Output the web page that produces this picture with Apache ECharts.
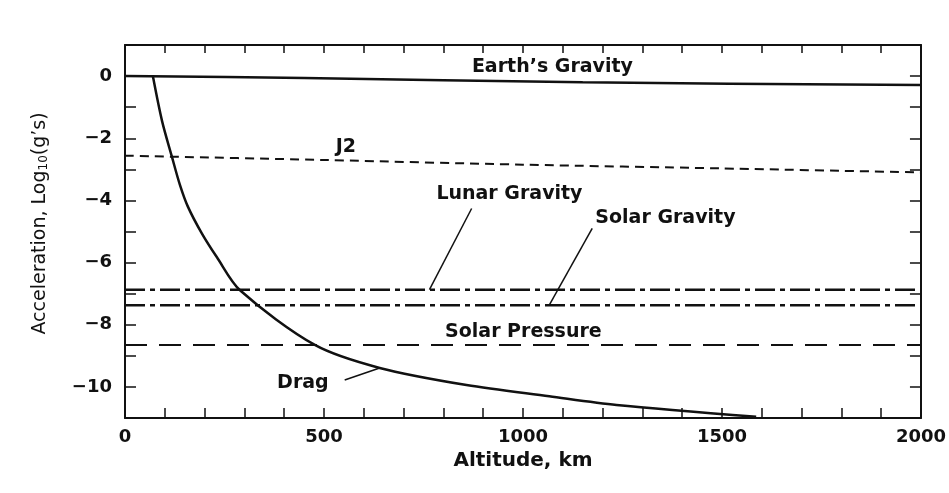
<!DOCTYPE html>
<html>
<head>
<meta charset="utf-8">
<script src="https://cdn.jsdelivr.net/npm/echarts@6/dist/echarts.min.js"></script>
<style>
  html, body { margin: 0; padding: 0; background: #ffffff; }
  #chart { width: 949px; height: 493px; }
</style>
</head>
<body>
<div id="chart"></div>
<script>
// Perturbing accelerations on a satellite versus altitude (log10 of g's)
const earthAlt = [0, 450, 1150, 2000];
const earthAcc = [0, -0.06, -0.2, -0.29];

const j2Alt = [0, 500, 1000, 1500, 2000];
const j2Acc = [-2.56, -2.7, -2.85, -2.97, -3.1];

const lunarAlt = [0, 2000];
const lunarAcc = [-6.87, -6.87];

const solarGravAlt = [0, 2000];
const solarGravAcc = [-7.37, -7.37];

const solarPressAlt = [0, 2000];
const solarPressAcc = [-8.65, -8.65];

const dragAlt = [70, 93, 118, 138, 158, 193, 231, 289, 477, 640, 858, 1066, 1235, 1586];
const dragAcc = [0, -1.44, -2.6, -3.5, -4.2, -5.06, -5.83, -6.89, -8.65, -9.39, -9.94, -10.3, -10.58, -10.96];

// Curve labels: text, altitude, acceleration
const labelText = ["Earth\u2019s Gravity", "J2", "Lunar Gravity", "Solar Gravity", "Solar Pressure", "Drag"];
const labelAlt = [1074, 555, 966, 1358, 1001, 447];
const labelAcc = [0.29, -2.28, -3.78, -4.58, -8.24, -9.87];

// Leader lines from labels to curves
const lunarLeaderAlt = [871, 765];
const lunarLeaderAcc = [-4.26, -6.87];
const solarLeaderAlt = [1174, 1066];
const solarLeaderAcc = [-4.9, -7.37];
const dragLeaderAlt = [552, 640];
const dragLeaderAcc = [-9.78, -9.39];

const xTicks = { min: 0, max: 2000, interval: 500 };
const yTicks = { min: -11, max: 1, interval: 1 };

function pairs(xs, ys) { return xs.map((x, i) => [x, ys[i]]); }

const INK = '#111111';
const tickFont = { fontFamily: 'DejaVu Sans', fontWeight: 'bold', fontSize: 18, color: INK };

function lineSeries(name, xs, ys, width, dash, smooth) {
  return {
    name: name, type: 'line', data: pairs(xs, ys),
    showSymbol: false, symbol: 'none', smooth: smooth || false,
    lineStyle: { color: INK, width: width, type: dash || 'solid' },
    silent: true, z: 3
  };
}

const chart = echarts.init(document.getElementById('chart'), null, { renderer: 'canvas' });

const axisLineStyle = { show: true, onZero: false, lineStyle: { color: INK, width: 2 } };
const tickLine = { color: INK, width: 1.5 };

chart.setOption({
  backgroundColor: '#ffffff',
  animation: false,
  grid: { left: 125, right: 27, top: 45, bottom: 75, containLabel: false },
  xAxis: [
    {
      type: 'value', position: 'bottom', min: xTicks.min, max: xTicks.max, interval: xTicks.interval,
      axisLine: axisLineStyle,
      axisTick: { show: true, inside: true, length: 10, lineStyle: tickLine },
      minorTick: { show: true, splitNumber: 5, length: 10, lineStyle: tickLine },
      splitLine: { show: false }, minorSplitLine: { show: false },
      axisLabel: Object.assign({ margin: 10, formatter: function (v) { return String(v); } }, tickFont),
      name: 'Altitude, km', nameLocation: 'middle', nameGap: 33,
      nameTextStyle: { fontFamily: 'DejaVu Sans', fontWeight: 'bold', fontSize: 20, color: INK }
    },
    {
      type: 'value', position: 'top', min: xTicks.min, max: xTicks.max, interval: xTicks.interval,
      axisLine: axisLineStyle,
      axisTick: { show: true, inside: true, length: 8, lineStyle: tickLine },
      minorTick: { show: true, splitNumber: 5, length: 8, lineStyle: tickLine },
      splitLine: { show: false }, minorSplitLine: { show: false },
      axisLabel: { show: false }
    }
  ],
  yAxis: [
    {
      type: 'value', position: 'left', min: yTicks.min, max: yTicks.max, interval: yTicks.interval,
      axisLine: axisLineStyle,
      axisTick: { show: true, inside: true, length: 11, lineStyle: tickLine },
      splitLine: { show: false },
      axisLabel: Object.assign({
        margin: 13,
        formatter: function (v) {
          if (v > 0 || Math.abs(v % 2) === 1) return '';
          return v < 0 ? '\u2212' + Math.abs(v) : String(v);
        }
      }, tickFont),
      name: '{n|Acceleration, Log}{s|10}{n|(g\u2019s)}', nameLocation: 'middle', nameGap: 75,
      nameTextStyle: {
        color: INK, padding: [0, 0, 0, 16],
        rich: {
          n: { fontFamily: 'DejaVu Sans', fontSize: 19, color: INK },
          s: { fontFamily: 'DejaVu Sans', fontSize: 12, color: INK, verticalAlign: 'bottom', padding: [8, 0, 0, 0] }
        }
      }
    },
    {
      type: 'value', position: 'right', min: yTicks.min, max: yTicks.max, interval: yTicks.interval,
      axisLine: axisLineStyle,
      axisTick: { show: true, inside: true, length: 11, lineStyle: tickLine },
      splitLine: { show: false },
      axisLabel: { show: false }
    }
  ],
  series: [
    lineSeries("Earth's Gravity", earthAlt, earthAcc, 2.5, 'solid', 0.3),
    lineSeries('J2', j2Alt, j2Acc, 2, [9, 6], 0.3),
    lineSeries('Lunar Gravity', lunarAlt, lunarAcc, 2.5, [20, 5, 5, 5]),
    lineSeries('Solar Gravity', solarGravAlt, solarGravAcc, 2.5, [20, 5, 5, 5]),
    lineSeries('Solar Pressure', solarPressAlt, solarPressAcc, 2, [22, 12]),
    lineSeries('Drag', dragAlt, dragAcc, 2.5, 'solid', 0.3),
    lineSeries('Lunar leader', lunarLeaderAlt, lunarLeaderAcc, 1.5),
    lineSeries('Solar leader', solarLeaderAlt, solarLeaderAcc, 1.5),
    lineSeries('Drag leader', dragLeaderAlt, dragLeaderAcc, 1.5),
    {
      name: 'Labels', type: 'scatter', symbolSize: 0, silent: true, z: 5,
      itemStyle: { color: INK, opacity: 1 },
      data: labelText.map((t, i) => ({ value: [labelAlt[i], labelAcc[i]], name: t })),
      label: {
        show: true, position: 'inside', formatter: function (p) { return p.name; },
        fontFamily: 'DejaVu Sans', fontWeight: 'bold', fontSize: 19, color: INK, opacity: 1
      },
      emphasis: { disabled: true }
    }
  ]
});
</script>
</body>
</html>
